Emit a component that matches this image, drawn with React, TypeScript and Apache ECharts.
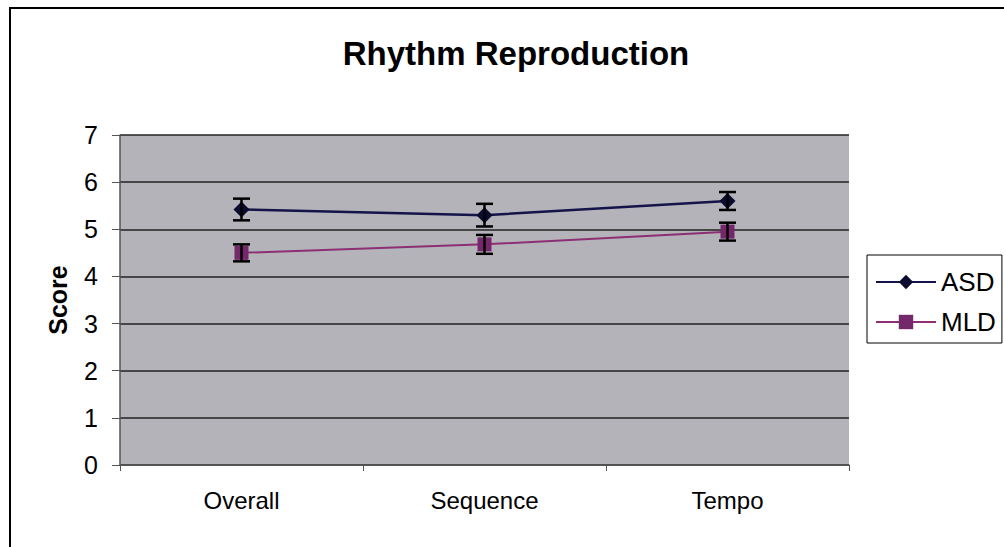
import React, { useEffect, useRef } from "react";
import * as echarts from "echarts";

const categories = ["Overall", "Sequence", "Tempo"];
const asdValues = [5.42, 5.3, 5.6];
const asdErr = [0.23, 0.24, 0.19];
const mldValues = [4.5, 4.68, 4.95];
const mldErr = [0.18, 0.2, 0.19];
const yTicks = [0, 1, 2, 3, 4, 5, 6, 7];

const ASD_COLOR = "#14144a";
const MLD_COLOR = "#8c2f74";

function errData(vals: number[], errs: number[]) {
  return vals.map((v, i) => [i, v - errs[i], v + errs[i]]);
}

const renderErr = (params: any, api: any) => {
  const x = api.value(0);
  const lo = api.coord([x, api.value(1)]);
  const hi = api.coord([x, api.value(2)]);
  const hw = 8.5;
  const style = { stroke: "#000", lineWidth: 2.5 };
  return {
    type: "group",
    children: [
      { type: "line", shape: { x1: lo[0], y1: lo[1], x2: hi[0], y2: hi[1] }, style },
      { type: "line", shape: { x1: hi[0] - hw, y1: hi[1], x2: hi[0] + hw, y2: hi[1] }, style },
      { type: "line", shape: { x1: lo[0] - hw, y1: lo[1], x2: lo[0] + hw, y2: lo[1] }, style },
    ],
  };
};

export default function App() {
  const ref = useRef<HTMLDivElement>(null);
  useEffect(() => {
    if (!ref.current) return;
    const chart = echarts.init(ref.current, null, { renderer: "svg" });
    chart.setOption({
      animation: false,
      backgroundColor: "#ffffff",
      textStyle: { fontFamily: "Liberation Sans, Arial, sans-serif" },
      title: {
        text: "Rhythm Reproduction",
        left: 511,
        textAlign: "center",
        top: 32,
        textStyle: { fontSize: 33, fontWeight: "bold", color: "#000" },
      },
      graphic: [
        {
          type: "rect",
          shape: { x: 10, y: 8, width: 1000, height: 545 },
          style: { fill: "none", stroke: "#000", lineWidth: 2 },
          silent: true,
        },
      ],
      grid: {
        left: 120,
        right: 155,
        top: 135,
        bottom: 82,
        show: true,
        backgroundColor: "#b4b3b9",
        borderWidth: 0,
      },
      legend: {
        orient: "vertical",
        left: 867,
        top: 255,
        padding: [13, 6, 7, 8],
        itemGap: 12,
        itemWidth: 60,
        itemHeight: 18,
        borderColor: "#000",
        borderWidth: 1,
        backgroundColor: "#fff",
        textStyle: { fontSize: 26, color: "#000", lineHeight: 28 },
        data: ["ASD", "MLD"],
      },
      xAxis: {
        type: "category",
        data: categories,
        boundaryGap: true,
        axisLine: { lineStyle: { color: "#555", width: 1.5 } },
        axisTick: { show: true, length: 6, lineStyle: { color: "#555" } },
        axisLabel: { fontSize: 24, color: "#000", margin: 23 },
      },
      yAxis: {
        type: "value",
        min: 0,
        max: 7,
        interval: 1,
        name: "Score",
        nameLocation: "middle",
        nameGap: 50,
        nameTextStyle: { fontSize: 25, fontWeight: "bold", color: "#000" },
        axisLine: { show: true, lineStyle: { color: "#555", width: 1.5 } },
        axisTick: { show: true, length: 8, lineStyle: { color: "#555" } },
        axisLabel: { fontSize: 25, color: "#000", margin: 22 },
        splitLine: { show: true, lineStyle: { color: "#222", width: 1.5 } },
      },
      series: [
        {
          name: "ASD",
          type: "line",
          data: asdValues,
          symbol: "diamond",
          symbolSize: 16,
          lineStyle: { color: ASD_COLOR, width: 2.5 },
          itemStyle: { color: "#0b0b30" },
          z: 3,
        },
        {
          name: "MLD",
          type: "line",
          data: mldValues,
          symbol: "rect",
          symbolSize: 14,
          lineStyle: { color: MLD_COLOR, width: 2 },
          itemStyle: { color: "#74286a" },
          z: 3,
        },
        {
          type: "custom",
          data: errData(asdValues, asdErr),
          renderItem: renderErr,
          z: 4,
          silent: true,
        },
        {
          type: "custom",
          data: errData(mldValues, mldErr),
          renderItem: renderErr,
          z: 4,
          silent: true,
        },
      ],
    });
    return () => chart.dispose();
  }, []);
  return (
    <div
      ref={ref}
      style={{ position: "fixed", left: 0, top: 0, width: 1004, height: 547 }}
    />
  );
}
